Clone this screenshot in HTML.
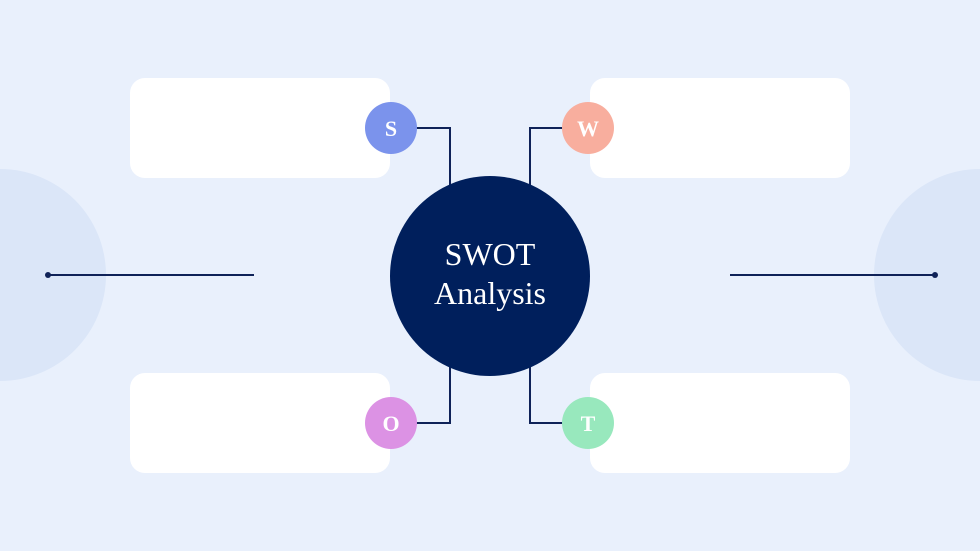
<!DOCTYPE html>
<html><head><style>
body{margin:0;width:980px;height:551px;overflow:hidden;background:#e9f0fc;}
</style></head><body>
<svg width="980" height="551" viewBox="0 0 980 551" xmlns="http://www.w3.org/2000/svg" style="display:block">
<rect width="980" height="551" fill="#e9f0fc"/>
<circle cx="0" cy="275" r="106" fill="#dbe6f8"/>
<circle cx="980" cy="275" r="106" fill="#dbe6f8"/>
<line x1="48" y1="275" x2="254" y2="275" stroke="#0f2258" stroke-width="2"/>
<circle cx="48" cy="275" r="3" fill="#0f2258"/>
<line x1="730" y1="275" x2="935" y2="275" stroke="#0f2258" stroke-width="2"/>
<circle cx="935" cy="275" r="3" fill="#0f2258"/>
<rect x="130" y="78" width="260" height="100" rx="15" fill="#fff"/>
<rect x="590" y="78" width="260" height="100" rx="15" fill="#fff"/>
<rect x="130" y="373" width="260" height="100" rx="15" fill="#fff"/>
<rect x="590" y="373" width="260" height="100" rx="15" fill="#fff"/>
<g fill="none" stroke="#0f2258" stroke-width="2">
<polyline points="391,128 450,128 450,200"/>
<polyline points="588,128 530,128 530,200"/>
<polyline points="391,423 450,423 450,350"/>
<polyline points="588,423 530,423 530,350"/>
</g>
<circle cx="490" cy="276" r="100" fill="#001f5c"/>
<g font-family="Liberation Serif, serif" fill="#fff" text-anchor="middle">
<text x="490" y="265" font-size="32">SWOT</text>
<text x="490" y="304" font-size="32">Analysis</text>
</g>
<circle cx="391" cy="128" r="26" fill="#7b93ec"/>
<circle cx="588" cy="128" r="26" fill="#f8ae9e"/>
<circle cx="391" cy="423" r="26" fill="#dc92e4"/>
<circle cx="588" cy="423" r="26" fill="#98e8bd"/>
<g font-family="Liberation Serif, serif" fill="#fff" text-anchor="middle" font-size="22" font-weight="bold">
<text x="391" y="136">S</text>
<text x="588" y="136">W</text>
<text x="391" y="431">O</text>
<text x="588" y="431">T</text>
</g>
</svg>
</body></html>
